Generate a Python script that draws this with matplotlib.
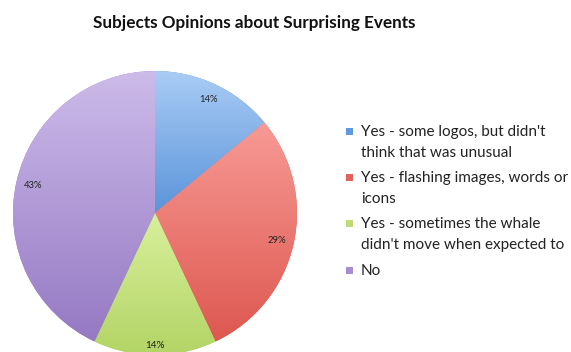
import numpy as np
import matplotlib
matplotlib.use("Agg")
import matplotlib.pyplot as plt
from matplotlib.colors import LinearSegmentedColormap
from matplotlib.patches import Rectangle

categories = ["Yes - some logos, but didn't\nthink that was unusual",
              "Yes - flashing images, words or\nicons",
              "Yes - sometimes the whale\ndidn't move when expected to",
              "No"]
values = [14, 29, 14, 43]
top_colors = ["#a9ccf5", "#f89a95", "#d8f09c", "#cdbbea"]
bottom_colors = ["#5b94da", "#dd5850", "#b3d465", "#9579c3"]
legend_colors = ["#5f98dc", "#e4625b", "#bfdc77", "#a58bcf"]

plt.rcParams['font.family'] = ['Lato', 'DejaVu Sans']

W, H = 571, 352
fig = plt.figure(figsize=(W / 100, H / 100), dpi=100)
fig.patch.set_facecolor("white")

cx, cy, r = 155, 213, 142
ax = fig.add_axes([(cx - r) / W, (H - cy - r) / H, 2 * r / W, 2 * r / H])
wedges, texts, autotexts = ax.pie(values, startangle=90, counterclock=False,
                                  autopct='%.0f%%', pctdistance=0.88,
                                  colors=bottom_colors,
                                  wedgeprops=dict(linewidth=0),
                                  textprops=dict(fontsize=6.8, color="#222222"))
ax.set_xlim(-1, 1)
ax.set_ylim(-1, 1)
ax.set_aspect('equal')
ax.axis('off')

# gradient fill per wedge
for w, tc, bc in zip(wedges, top_colors, bottom_colors):
    path = w.get_path()
    verts = path.vertices
    ymin, ymax = verts[:, 1].min(), verts[:, 1].max()
    xmin, xmax = verts[:, 0].min(), verts[:, 0].max()
    cmap = LinearSegmentedColormap.from_list("g", [bc, tc])
    grad = np.linspace(0, 1, 256).reshape(-1, 1)
    im = ax.imshow(grad, cmap=cmap, origin='lower', aspect='auto',
                   extent=[xmin, xmax, ymin, ymax], zorder=1.5)
    im.set_clip_path(w)

for t in autotexts:
    t.set_zorder(3)
# green label sits a bit further out
gx, gy = autotexts[2].get_position()
autotexts[2].set_position((gx * 0.93 / 0.88, gy * 0.93 / 0.88))
autotexts[2].set_fontsize(7.2)

fig.text(254 / W, 1 - 23 / H, "Subjects Opinions about Surprising Events",
         ha='center', va='center', fontsize=12.3, fontweight='bold', color="#111111")

# legend
first_line_y = [131, 177, 223, 270]
for lab, col, yy in zip(categories, legend_colors, first_line_y):
    fig.patches.append(Rectangle(((346) / W, 1 - (yy + 3.5) / H), 7 / W, 7 / H,
                                 transform=fig.transFigure, facecolor=col,
                                 edgecolor='none'))
    fig.text(361 / W, 1 - (yy - 6) / H, lab, ha='left', va='top',
             fontsize=11, color="#222222", linespacing=1.6)

fig.savefig("out.png", dpi=100, facecolor="white")
